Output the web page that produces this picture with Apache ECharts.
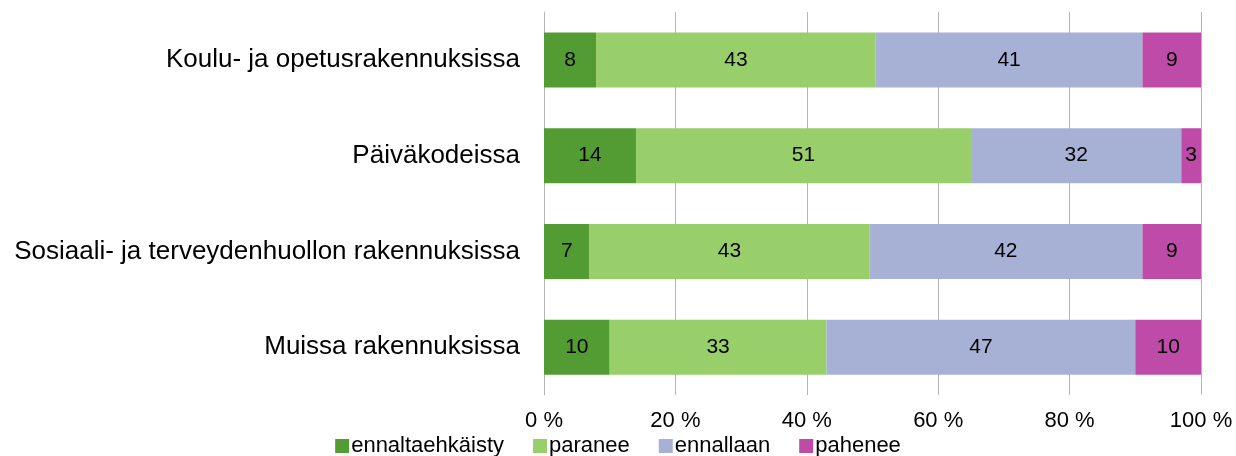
<!DOCTYPE html>
<html>
<head>
<meta charset="utf-8">
<script src="https://cdn.jsdelivr.net/npm/echarts@6/dist/echarts.min.js"></script>
<style>
  html, body { margin: 0; padding: 0; background: #fff; }
  #chart { width: 1236px; height: 456px; }
</style>
</head>
<body>
<div id="chart"></div>
<script>
const categories = ['Koulu- ja opetusrakennuksissa', 'Päiväkodeissa', 'Sosiaali- ja terveydenhuollon rakennuksissa', 'Muissa rakennuksissa'];
const ennaltaehkaisty = [8, 14, 7, 10];
const paranee = [43, 51, 43, 33];
const ennallaan = [41, 32, 42, 47];
const pahenee = [9, 3, 9, 10];
const xTicks = [0, 20, 40, 60, 80, 100];

const seriesDefs = [
  { name: 'ennaltaehkäisty', data: ennaltaehkaisty, color: '#539B33' },
  { name: 'paranee', data: paranee, color: '#98CF6A' },
  { name: 'ennallaan', data: ennallaan, color: '#A7B0D5' },
  { name: 'pahenee', data: pahenee, color: '#BE4BA7' }
];

// 100 % stacked: each row scaled to its own total
const totals = categories.map((c, i) => seriesDefs.reduce((s, d) => s + d.data[i], 0));

let myChart = echarts.init(document.getElementById('chart'));
let option = {
  animation: false,
  textStyle: { fontFamily: 'Liberation Sans, Arial, sans-serif' },
  color: seriesDefs.map(d => d.color),
  grid: { left: 544, right: 35, top: 12, bottom: 61 },
  legend: {
    bottom: -6,
    left: 'center',
    itemWidth: 14,
    itemHeight: 14,
    itemGap: 29,
    icon: 'rect',
    textStyle: { fontSize: 22, color: '#000', padding: [0, 0, 0, -3] },
    data: seriesDefs.map(d => d.name)
  },
  xAxis: {
    type: 'value',
    min: xTicks[0],
    max: xTicks[xTicks.length - 1],
    interval: 20,
    axisLine: { show: false },
    axisTick: { show: false },
    axisLabel: { fontSize: 22, color: '#000', margin: 15, formatter: '{value} %' },
    splitLine: { show: true, lineStyle: { color: '#b4b4b4', width: 1 } }
  },
  yAxis: {
    type: 'category',
    inverse: true,
    data: categories,
    axisLine: { show: true, lineStyle: { color: '#b4b4b4' } },
    axisTick: { show: false },
    axisLabel: { fontSize: 26, color: '#000', margin: 24 }
  },
  series: seriesDefs.map(d => ({
    name: d.name,
    type: 'bar',
    stack: 'all',
    barWidth: 55,
    data: d.data.map((v, i) => ({ value: v / totals[i] * 100, raw: v })),
    label: {
      show: true,
      position: 'inside',
      fontSize: 21,
      color: '#000',
      formatter: p => p.data.raw
    }
  }))
};
myChart.setOption(option);
</script>
</body>
</html>
